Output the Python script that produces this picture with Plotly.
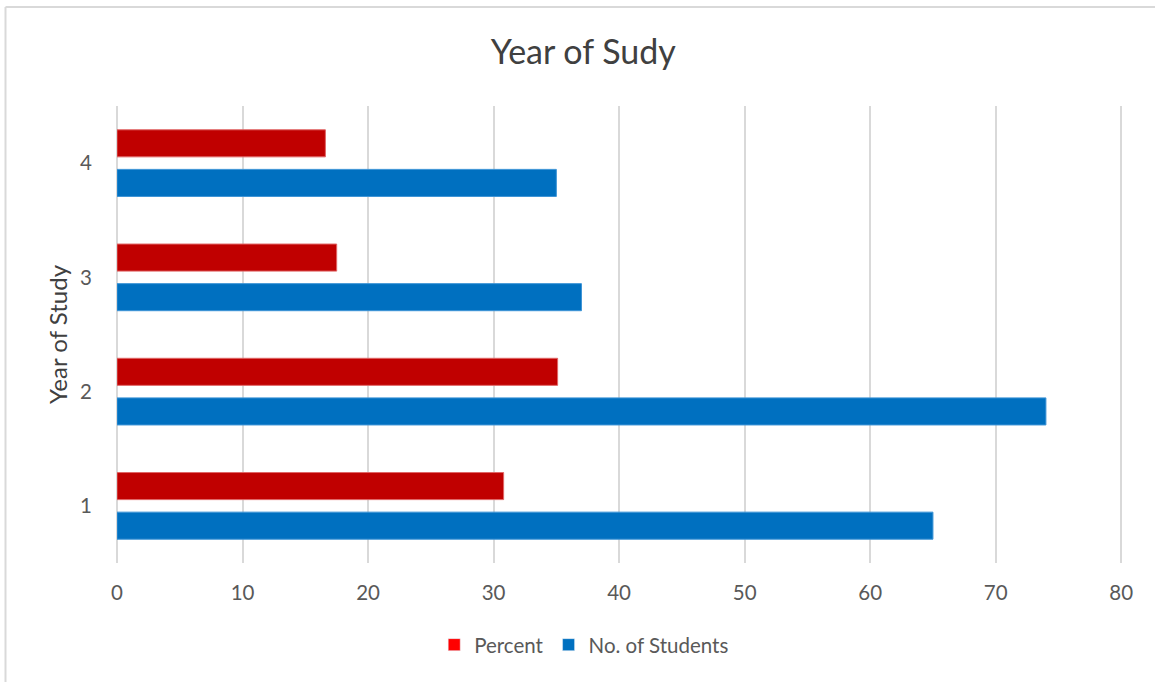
import plotly.graph_objects as go

years = ["1", "2", "3", "4"]
students = [65, 74, 37, 35]
percent = [30.8, 35.1, 17.5, 16.6]

title_text = "Year of Sudy"
y_title = "Year of Study"
x_ticks = [0, 10, 20, 30, 40, 50, 60, 70, 80]

FONT = "Lato, Open Sans, sans-serif"
TXT = "#595959"

fig = go.Figure()
fig.add_trace(go.Bar(
    y=years, x=students, orientation="h", name="No. of Students",
    marker=dict(color="#0070C0", line=dict(color="#3D94D6", width=1)),
    showlegend=False, offsetgroup="s",
))
fig.add_trace(go.Bar(
    y=years, x=percent, orientation="h", name="Percent",
    marker=dict(color="#C00000", line=dict(color="#E06666", width=1)),
    showlegend=False, offsetgroup="p",
))
# legend entries
fig.add_trace(go.Bar(y=[None], x=[None], orientation="h", name="Percent",
                     marker=dict(color="#FF0000"), legendrank=1, offsetgroup="p"))
fig.add_trace(go.Bar(y=[None], x=[None], orientation="h", name="No. of Students",
                     marker=dict(color="#0070C0"), legendrank=2, offsetgroup="s"))

fig.update_layout(
    width=1155, height=682,
    margin=dict(l=117, r=30, t=106, b=119),
    paper_bgcolor="white", plot_bgcolor="white",
    barmode="group", bargap=0.307, bargroupgap=0.316,
    font=dict(family=FONT, size=20.5, color=TXT),
    title=dict(text=title_text, x=0.505, xanchor="center", y=0.923, yanchor="middle",
               font=dict(family=FONT, size=34, color="#404040")),
    legend=dict(orientation="h", x=0.4635, xanchor="center", y=-0.179, yanchor="middle",
                font=dict(size=20.5, color=TXT), itemwidth=30, traceorder="normal"),
    xaxis=dict(range=[0, 80.3], tickvals=x_ticks, showgrid=True, gridcolor="#D9D9D9",
               gridwidth=1.5, zeroline=True, zerolinecolor="#D9D9D9", zerolinewidth=1.5,
               showline=False, ticks="", ticklabelstandoff=15, fixedrange=True),
    yaxis=dict(type="category", categoryorder="array", categoryarray=years,
               showgrid=False, zeroline=False, showline=False, ticks="",
               ticklabelstandoff=24,
               title=dict(text=y_title, standoff=5, font=dict(size=24, color="#404040"))),
    shapes=[
        dict(type="line", xref="paper", yref="paper", x0=-0.1106, x1=-0.1106,
             y0=1.2166, y1=-0.3, line=dict(color="#D9D9D9", width=2)),
        dict(type="line", xref="paper", yref="paper", x0=-0.1106, x1=1.05,
             y0=1.2166, y1=1.2166, line=dict(color="#D9D9D9", width=2)),
    ],
)

fig.write_html("out.html")
